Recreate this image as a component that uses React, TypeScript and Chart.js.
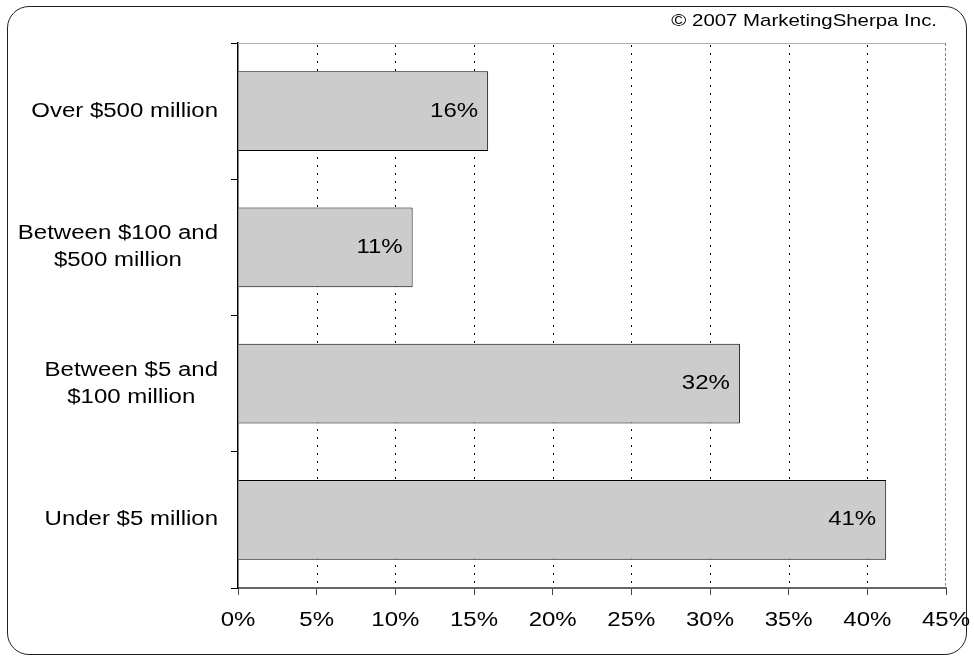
import React, { useEffect, useRef } from "react";
import { Chart, registerables } from "chart.js";

Chart.register(...registerables);

const categories: (string | string[])[] = [
  "Over $500 million",
  ["Between $100 and", "$500 million"],
  ["Between $5 and", "$100 million"],
  "Under $5 million",
];
const values: number[] = [15.9, 11.1, 31.9, 41.2];
const valueLabels: string[] = ["16%", "11%", "32%", "41%"];
const xTickValues: number[] = [0, 5, 10, 15, 20, 25, 30, 35, 40, 45];
const copyright = "© 2007 MarketingSherpa Inc.";

const FONT = '"Liberation Sans", Arial, sans-serif';
const SX = 1.2;

function drawText(
  ctx: CanvasRenderingContext2D,
  text: string,
  x: number,
  y: number,
  align: "left" | "right" | "center",
  size: number
) {
  ctx.save();
  ctx.font = `${size}px ${FONT}`;
  ctx.textBaseline = "middle";
  ctx.textAlign = "left";
  ctx.fillStyle = "#000";
  const w = ctx.measureText(text).width * SX;
  const x0 = align === "right" ? x - w : align === "center" ? x - w / 2 : x;
  ctx.translate(x0, y);
  ctx.scale(SX, 1);
  ctx.fillText(text, 0, 0);
  ctx.restore();
}

function measure(ctx: CanvasRenderingContext2D, text: string, size: number) {
  ctx.save();
  ctx.font = `${size}px ${FONT}`;
  const w = ctx.measureText(text).width * SX;
  ctx.restore();
  return w;
}

const framePlugin = {
  id: "frame",
  beforeDatasetsDraw(chart: any) {
    const ctx = chart.ctx as CanvasRenderingContext2D;
    const xs = chart.scales.x;
    const { left, right, top, bottom } = chart.chartArea;
    ctx.save();
    // dotted gridlines
    ctx.strokeStyle = "#000";
    ctx.lineWidth = 1;
    ctx.setLineDash([2, 6]);
    xTickValues.slice(1, -1).forEach((v) => {
      const x = Math.round(xs.getPixelForValue(v)) + 0.5;
      ctx.beginPath();
      ctx.moveTo(x, top + 2);
      ctx.lineTo(x, bottom);
      ctx.stroke();
    });
    ctx.setLineDash([]);
    ctx.strokeStyle = "#b0b0b0";
    ctx.beginPath();
    ctx.moveTo(left, top + 0.5);
    ctx.lineTo(right, top + 0.5);
    ctx.stroke();
    ctx.strokeStyle = "#888";
    ctx.setLineDash([3, 2]);
    ctx.beginPath();
    ctx.moveTo(right - 0.5, top);
    ctx.lineTo(right - 0.5, bottom);
    ctx.stroke();
    ctx.restore();
  },
};

const textPlugin = {
  id: "texts",
  afterDraw(chart: any) {
    const ctx = chart.ctx as CanvasRenderingContext2D;
    const xs = chart.scales.x;
    const ys = chart.scales.y;
    xTickValues.forEach((v) => {
      drawText(ctx, `${v}%`, xs.getPixelForValue(v), 620, "center", 20);
    });
    const labelRight = ys.left + ys.width - 20;
    categories.forEach((c, i) => {
      const y = ys.getPixelForValue(i);
      if (Array.isArray(c)) {
        const W = Math.max(...c.map((l) => measure(ctx, l, 20)));
        const cx = labelRight - W / 2;
        const lh = 27;
        const y0 = y - ((c.length - 1) * lh) / 2;
        c.forEach((l, j) => drawText(ctx, l, cx, y0 + j * lh, "center", 20));
      } else {
        drawText(ctx, c, labelRight, y, "right", 20);
      }
    });
    const meta = chart.getDatasetMeta(0);
    meta.data.forEach((bar: any, i: number) => {
      drawText(ctx, valueLabels[i], bar.x - 10, bar.y, "right", 20);
    });
    drawText(ctx, copyright, 937, 21, "right", 17);
  },
};

export default function App() {
  const ref = useRef<HTMLCanvasElement | null>(null);
  useEffect(() => {
    document.body.style.margin = "0";
    if (!ref.current) return;
    const chart = new Chart(ref.current, {
      type: "bar",
      data: {
        labels: categories as any,
        datasets: [
          {
            data: values,
            backgroundColor: "#cccccc",
            borderColor: "#000000",
            borderWidth: 1,
            categoryPercentage: 1,
            barPercentage: 0.587,
          },
        ],
      },
      options: {
        indexAxis: "y",
        animation: false,
        responsive: false,
        maintainAspectRatio: false,
        layout: { padding: { left: 0, top: 43, right: 28, bottom: 0 } },
        plugins: {
          legend: { display: false },
          tooltip: { enabled: false },
          title: { display: false },
        },
        scales: {
          x: {
            type: "linear",
            min: 0,
            max: 45,
            ticks: { stepSize: 5, display: false },
            grid: {
              drawOnChartArea: false,
              color: "#444",
              tickColor: "#444",
              tickLength: 7,
              lineWidth: 1,
            },
            border: { color: "#666", width: 2 },
            afterFit: (s: any) => {
              s.height = 68;
            },
          },
          y: {
            type: "category",
            offset: true,
            ticks: { display: false },
            grid: {
              drawOnChartArea: false,
              offset: true,
              tickLength: 7,
              color: "#000",
            },
            border: { color: "#000", width: 1.5 },
            afterFit: (s: any) => {
              s.width = 238;
            },
          },
        },
      },
      plugins: [framePlugin, textPlugin],
    });
    return () => chart.destroy();
  }, []);

  return (
    <div style={{ position: "relative", width: 974, height: 656, overflow: "hidden", background: "#fff" }}>
      <div
        style={{
          position: "absolute",
          left: 7,
          top: 6,
          width: 960,
          height: 649,
          boxSizing: "border-box",
          border: "1.5px solid #222",
          borderRadius: 22,
        }}
      />
      <canvas
        ref={ref}
        width={974}
        height={656}
        style={{ position: "absolute", left: 0, top: 0, width: 974, height: 656 }}
      />
    </div>
  );
}
